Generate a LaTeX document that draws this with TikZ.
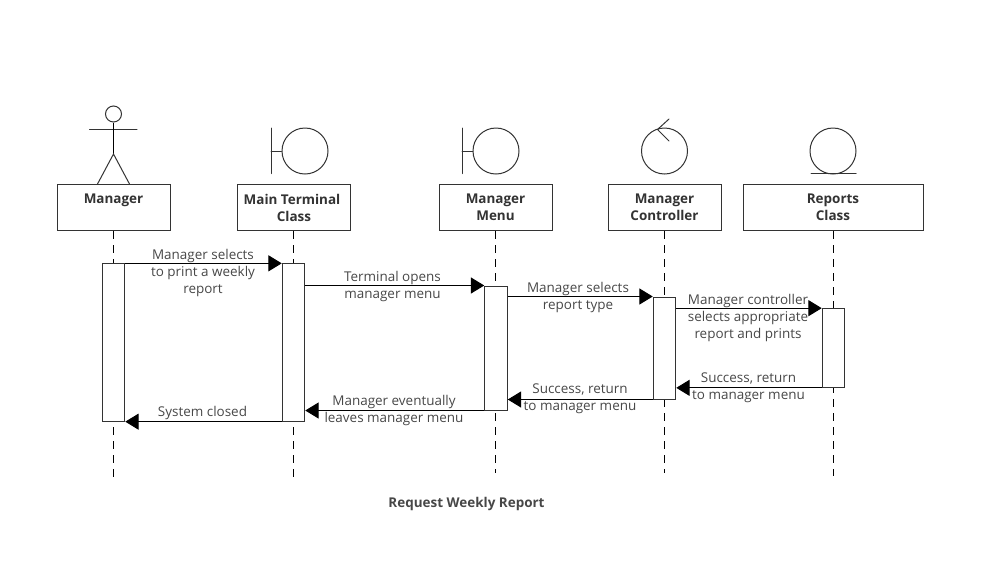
\documentclass[tikz,border=0pt]{standalone}
\usepackage{fontspec}
\setmainfont{Open Sans}
\usetikzlibrary{arrows.meta}
\definecolor{ink}{HTML}{333333}
\tikzset{
  x=0.75pt,y=-0.75pt,
  every path/.style={line width=0.75pt},
  lane/.style={draw=ink,fill=white,minimum width=84.75pt,minimum height=34.5pt,inner sep=0pt,align=center,font=\fontsize{10.1}{12.75}\selectfont\bfseries,text=ink},
  life/.style={draw=black,dash pattern=on 6pt off 4.5pt},
  act/.style={draw=ink,fill=white,minimum width=16.9pt,inner sep=0pt},
  msg/.style={draw=black,-{Triangle[length=10pt,width=12pt,fill=black]}},
  lbl/.style={inner sep=0pt,align=center,font=\fontsize{10.1}{12.75}\selectfont,text=ink!90},
  sym/.style={draw=ink,line cap=round},
}
\begin{document}
\begin{tikzpicture}
\useasboundingbox (0,0) rectangle (991,586);
% header boxes
\node[lane] (b1) at (113.5,207.5) {Manager\\~};
\node[lane] (b2) at (294,207.5) {Main Terminal\hspace*{3pt}\\Class};
\node[lane] (b3) at (495.5,207.5) {Manager\\Menu};
\node[lane] (b4) at (664.5,207.5) {Manager\\Controller};
\node[lane,minimum width=135pt] (b5) at (833,207.5) {Reports\\Class};
% lifeline ends
\coordinate (e1) at (113,478);
\coordinate (e2) at (293.5,478);
\coordinate (e3) at (495.5,473);
\coordinate (e4) at (664.5,473);
\coordinate (e5) at (833,476);
\draw[life] (b1.south -| e1) -- (e1);
\draw[life] (b2.south -| e2) -- (e2);
\draw[life] (b3.south -| e3) -- (e3);
\draw[life] (b4.south -| e4) -- (e4);
\draw[life] (b5.south -| e5) -- (e5);
% activations
\node[act,minimum height=118pt] (a1) at (113.5,342.5) {};
\node[act,minimum height=118pt] (a2) at (293.5,342.5) {};
\node[act,minimum height=93pt] (a3) at (496,348) {};
\node[act,minimum height=76.5pt] (a4) at (664.5,348) {};
\node[act,minimum height=59pt] (a5) at (833.5,348) {};
% messages
\draw[msg] (a1.north east) -- (a2.north west);
\draw[msg] (a2.east |- a3.north) -- (a3.north west);
\draw[msg] (a3.east |- a4.north) -- (a4.north west);
\draw[msg] (a4.east |- a5.north) -- (a5.north west);
\draw[msg] (a5.south west) -- (a5.south west -| a4.east);
\draw[msg] (a4.south west) -- (a4.south west -| a3.east);
\draw[msg] (a3.south west) -- (a3.south west -| a2.east);
\draw[msg] (a2.south west) -- (a1.south east);
% labels
\node[lbl] (m1) at (203,272.5) {Manager selects\\to print a weekly\\report};
\node[lbl] (m2) at (392.5,286) {Terminal opens\\manager menu};
\node[lbl] (m3) at (578,297.5) {Manager selects\\report type};
\node[lbl] (m4) at (748,317.5) {Manager controller\\selects appropriate\\report and prints};
\node[lbl] (m5) at (748.5,387.5) {Success, return\\to manager menu};
\node[lbl] (m6) at (580,398.5) {Success, return\\to manager menu};
\node[lbl] (m7) at (394,410) {Manager eventually\\leaves manager menu};
\node[lbl] (m8) at (202.5,412.5) {System closed};
\node[lbl,font=\fontsize{10.1}{12.75}\selectfont\bfseries] (title) at (466.5,503.5) {Request Weekly Report};
% actor
\node[circle,draw=ink,minimum size=12pt,inner sep=0pt] (head) at (113.5,114) {};
\coordinate (arml) at (89.5,129.5);
\coordinate (armr) at (137,129.5);
\coordinate (hip) at (113.5,154);
\coordinate (legl) at (97.5,184);
\coordinate (legr) at (129.5,184);
\draw[sym] (arml) -- (armr);
\draw[draw=black] (head.south) -- (hip);
\draw[sym] (legl) -- (hip) -- (legr);
% boundary 1
\node[circle,draw=ink,minimum size=34.5pt,inner sep=0pt] (c2) at (305,151) {};
\coordinate (bt2) at (271,128);
\coordinate (bb2) at (271,173.5);
\draw[sym] (bt2) -- (bb2);
\draw[sym] (c2.west) -- (c2.west -| bt2);
% boundary 2
\node[circle,draw=ink,minimum size=34.5pt,inner sep=0pt] (c3) at (496,151) {};
\coordinate (bt3) at (462,128);
\coordinate (bb3) at (462,173.5);
\draw[sym] (bt3) -- (bb3);
\draw[sym] (c3.west) -- (c3.west -| bt3);
% control
\node[circle,draw=ink,minimum size=34.5pt,inner sep=0pt] (c4) at (664.5,151) {};
\coordinate (ct1) at (669,119);
\coordinate (ct2) at (657.5,129.5);
\coordinate (ct3) at (669,141);
\draw[sym] (ct1) -- (ct2) -- (ct3);
% entity
\node[circle,draw=ink,minimum size=34.5pt,inner sep=0pt] (c5) at (833,151) {};
\coordinate (el) at (811,173.5);
\coordinate (er) at (856,173.5);
\draw[sym] (el) -- (er);
\end{tikzpicture}
\end{document}
